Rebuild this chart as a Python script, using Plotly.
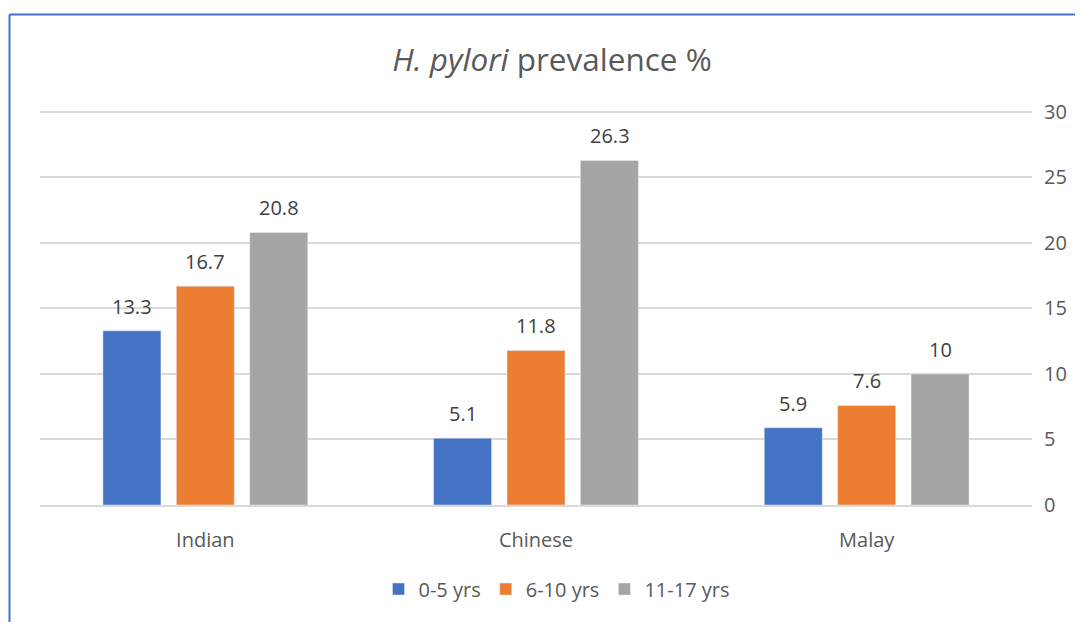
import plotly.graph_objects as go

categories = ["Indian", "Chinese", "Malay"]
series_names = ["0-5 yrs", "6-10 yrs", "11-17 yrs"]
vals_0_5 = [13.3, 5.1, 5.9]
vals_6_10 = [16.7, 11.8, 7.6]
vals_11_17 = [20.8, 26.3, 10]
colors = ["#4472C4", "#ED7D31", "#A5A5A5"]
y_ticks = [0, 5, 10, 15, 20, 25, 30]

FONT = "Open Sans"
# page body has an 8px margin; work in figure coordinates
W, H = 1075, 614
l, r, t, b = 32, 51, 100, 117
pw, ph = W - l - r, H - t - b

def px_x(x):
    return (x - l) / pw

def px_y(y):
    return (H - b - y) / ph

fig = go.Figure()
series = [vals_0_5, vals_6_10, vals_11_17]
annotations = []
slot = 73.5
for i, (name, vals, col) in enumerate(zip(series_names, series, colors)):
    fig.add_trace(go.Bar(x=categories, y=vals, name=name, marker_color=col))
    for c, v in zip(categories, vals):
        annotations.append(dict(x=c, y=v, xref="x", yref="y", text=str(v), showarrow=False,
                                xshift=(i - 1) * slot, yanchor="bottom", yshift=9,
                                font=dict(size=20, color="#404040", family=FONT)))

fig.update_layout(
    width=W, height=H,
    margin=dict(l=l, r=r, t=t, b=b),
    paper_bgcolor="white", plot_bgcolor="white",
    barmode="group", bargap=0.334, bargroupgap=0.21,
    font=dict(family=FONT, color="#595959"),
    title=dict(text="<i>H. pylori</i> prevalence %", x=544 / W, xanchor="center",
               y=1 - 52 / H, yanchor="middle",
               font=dict(size=31.5, color="#595959", family=FONT)),
    xaxis=dict(showline=True, linecolor="#D9D9D9", linewidth=1.5, ticks="",
               ticklabelstandoff=16, tickfont=dict(size=20, color="#595959")),
    yaxis=dict(side="right", range=[0, 30.3], tickvals=y_ticks, showgrid=True,
               gridcolor="#D9D9D9", gridwidth=1.5, zeroline=False, showline=False,
               ticks="", ticklabelstandoff=11,
               tickfont=dict(size=20, color="#595959")),
    legend=dict(orientation="h", x=px_x(557 - 8), xanchor="center", y=px_y(581), yanchor="middle",
                font=dict(size=20, color="#595959"), traceorder="normal",
                itemwidth=30),
    showlegend=True,
    annotations=annotations,
    shapes=[
        dict(type="line", xref="paper", yref="paper", x0=px_x(1.5), x1=px_x(1090),
             y0=px_y(6.5), y1=px_y(6.5), line=dict(color="#4472C4", width=2)),
        dict(type="line", xref="paper", yref="paper", x0=px_x(1.5), x1=px_x(1.5),
             y0=px_y(630), y1=px_y(6.5), line=dict(color="#4472C4", width=2)),
    ],
)

fig.write_html("out.html")
